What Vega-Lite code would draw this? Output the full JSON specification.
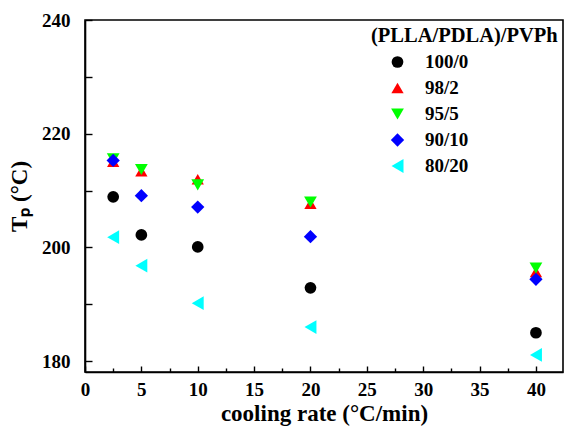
{
  "$schema": "https://vega.github.io/schema/vega-lite/v6.json",
  "width": 478,
  "height": 352,
  "autosize": "none",
  "padding": {"left": 85, "top": 20, "right": 1, "bottom": 62},
  "background": "white",
  "config": {
    "font": "Liberation Serif, Times New Roman, serif",
    "view": {"stroke": "black", "strokeWidth": 1.6},
    "axis": {
      "labelFont": "Liberation Serif, Times New Roman, serif",
      "labelFontWeight": "bold",
      "labelFontSize": 19,
      "labelColor": "black",
      "titleFont": "Liberation Serif, Times New Roman, serif",
      "titleFontWeight": "bold",
      "titleColor": "black",
      "domainColor": "black",
      "domainWidth": 1.6,
      "tickColor": "black",
      "tickWidth": 1.4,
      "grid": false
    }
  },
  "data": {
    "values": [
      {"rate": 2.5, "Tp": 208.9, "series": "100/0"},
      {"rate": 5, "Tp": 202.2, "series": "100/0"},
      {"rate": 10, "Tp": 200.1, "series": "100/0"},
      {"rate": 20, "Tp": 192.9, "series": "100/0"},
      {"rate": 40, "Tp": 185.0, "series": "100/0"},
      {"rate": 2.5, "Tp": 215.1, "series": "98/2"},
      {"rate": 5, "Tp": 213.4, "series": "98/2"},
      {"rate": 10, "Tp": 212.0, "series": "98/2"},
      {"rate": 20, "Tp": 207.7, "series": "98/2"},
      {"rate": 40, "Tp": 195.7, "series": "98/2"},
      {"rate": 2.5, "Tp": 215.6, "series": "95/5"},
      {"rate": 5, "Tp": 213.7, "series": "95/5"},
      {"rate": 10, "Tp": 211.0, "series": "95/5"},
      {"rate": 20, "Tp": 208.0, "series": "95/5"},
      {"rate": 40, "Tp": 196.4, "series": "95/5"},
      {"rate": 2.5, "Tp": 215.3, "series": "90/10"},
      {"rate": 5, "Tp": 209.1, "series": "90/10"},
      {"rate": 10, "Tp": 207.1, "series": "90/10"},
      {"rate": 20, "Tp": 201.9, "series": "90/10"},
      {"rate": 40, "Tp": 194.4, "series": "90/10"},
      {"rate": 2.5, "Tp": 201.8, "series": "80/20"},
      {"rate": 5, "Tp": 196.8, "series": "80/20"},
      {"rate": 10, "Tp": 190.2, "series": "80/20"},
      {"rate": 20, "Tp": 186.0, "series": "80/20"},
      {"rate": 40, "Tp": 181.1, "series": "80/20"}
    ]
  },
  "mark": {"type": "point", "filled": true, "opacity": 1},
  "encoding": {
    "x": {
      "field": "rate",
      "type": "quantitative",
      "scale": {"domain": [0, 42.4], "nice": false, "zero": false},
      "axis": {
        "title": "cooling rate (°C/min)",
        "titleFontSize": 23,
        "titlePadding": 1,
        "values": [0, 2.5, 5, 7.5, 10, 12.5, 15, 17.5, 20, 22.5, 25, 27.5, 30, 32.5, 35, 37.5, 40, 42.5],
        "labelExpr": "datum.value % 5 === 0 ? datum.label : ''",
        "tickSize": {"condition": {"test": "datum.value % 5 === 0", "value": -6}, "value": -4},
        "labelPadding": 14,
        "labelFlush": false,
        "labelOverlap": false
      }
    },
    "y": {
      "field": "Tp",
      "type": "quantitative",
      "scale": {"domain": [178.1, 240], "nice": false, "zero": false},
      "axis": {
        "title": "Tₚ (°C)",
        "titleFontSize": 23,
        "titlePadding": 10,
        "values": [180, 190, 200, 210, 220, 230, 240],
        "labelExpr": "datum.value % 20 === 0 ? datum.label : ''",
        "tickSize": -7,
        "labelPadding": 22,
        "labelFlush": false,
        "labelOverlap": false
      }
    },
    "color": {
      "field": "series",
      "type": "nominal",
      "sort": ["100/0", "98/2", "95/5", "90/10", "80/20"],
      "scale": {
        "domain": ["100/0", "98/2", "95/5", "90/10", "80/20"],
        "range": ["#000000", "#ff0000", "#00ff00", "#0000ff", "#00ffff"]
      },
      "legend": {
        "title": "(PLLA/PDLA)/PVPh",
        "orient": "none",
        "legendX": 286,
        "legendY": 6,
        "padding": 0,
        "titleFont": "Liberation Serif, Times New Roman, serif",
        "titleFontWeight": "bold",
        "titleFontSize": 20.5,
        "titleColor": "black",
        "titleLimit": 400,
        "titlePadding": 6,
        "labelFont": "Liberation Serif, Times New Roman, serif",
        "labelFontWeight": "bold",
        "labelFontSize": 19,
        "labelColor": "black",
        "symbolSize": 75,
        "symbolOffset": 17,
        "labelOffset": 18,
        "rowPadding": 6,
        "symbolStrokeWidth": 0
      }
    },
    "shape": {
      "field": "series",
      "type": "nominal",
      "sort": ["100/0", "98/2", "95/5", "90/10", "80/20"],
      "scale": {
        "domain": ["100/0", "98/2", "95/5", "90/10", "80/20"],
        "range": ["circle", "triangle-up", "triangle-down", "diamond", "triangle-left"]
      }
    },
    "size": {
      "field": "series",
      "type": "nominal",
      "scale": {
        "domain": ["100/0", "98/2", "95/5", "90/10", "80/20"],
        "range": [137, 190, 190, 200, 215]
      },
      "legend": null
    }
  }
}
